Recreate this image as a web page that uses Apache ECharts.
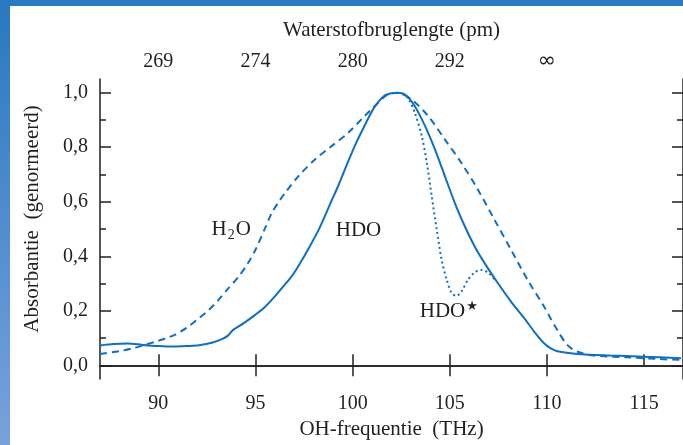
<!DOCTYPE html>
<html>
<head>
<meta charset="utf-8">
<script src="https://cdn.jsdelivr.net/npm/echarts@6/dist/echarts.min.js"></script>
<style>
html,body{margin:0;padding:0;background:#fff;}
#c{width:683px;height:445px;}
</style>
</head>
<body>
<div id="c"></div>
<script>
// ---- data ----
var freqTicks = [90, 95, 100, 105, 110, 115];
var bondTickPos = [90, 95, 100, 105, 110];
var bondTickLabels = ['269', '274', '280', '292', '{inf|\u221E}'];
var yMajor = [0, 0.2, 0.4, 0.6, 0.8, 1.0];
var yMinor = [0.1, 0.3, 0.5, 0.7, 0.9];

var hdo = [[87,0.073],[87.7,0.078],[88.4,0.080],[89.2,0.075],[90,0.071],[90.8,0.069],[91.5,0.071],[92.1,0.074],[92.8,0.084],[93.3,0.097],[93.6,0.110],[93.85,0.130],[94.4,0.155],[95,0.186],[95.5,0.215],[96,0.253],[96.5,0.295],[96.9,0.330],[97.3,0.375],[97.7,0.424],[98.3,0.504],[98.9,0.601],[99.3,0.665],[99.6,0.718],[100.1,0.803],[100.6,0.877],[101.1,0.944],[101.6,0.987],[102.0,0.998],[102.3,1.0],[102.7,0.993],[103.2,0.950],[103.73,0.877],[104.24,0.791],[104.75,0.693],[105.26,0.595],[105.77,0.510],[106.28,0.436],[106.79,0.375],[107.47,0.302],[108.15,0.234],[108.83,0.173],[109.34,0.124],[109.85,0.081],[110.2,0.062],[110.53,0.052],[111.55,0.042],[113.25,0.036],[114.95,0.032],[116.9,0.026]];

var h2o = [[87,0.042],[88,0.052],[88.7,0.063],[89.3,0.075],[89.9,0.088],[90.5,0.102],[90.9,0.114],[91.5,0.140],[92.1,0.173],[92.6,0.203],[93.1,0.240],[93.6,0.282],[94.14,0.326],[94.6,0.373],[95.0,0.424],[95.5,0.504],[95.84,0.559],[96.2,0.600],[96.52,0.632],[97.2,0.693],[98.05,0.754],[98.9,0.803],[99.76,0.852],[100.6,0.913],[101.3,0.962],[101.8,0.993],[102.3,0.999],[103.05,0.974],[103.9,0.913],[104.75,0.828],[105.6,0.742],[106.45,0.644],[107.3,0.534],[108.15,0.424],[109.0,0.314],[109.85,0.216],[110.2,0.170],[110.53,0.130],[111.04,0.075],[111.55,0.051],[112.4,0.036],[114.1,0.030],[115.8,0.023],[116.9,0.020]];

var hdoStar = [[102.3,1.0],[102.7,0.99],[102.9,0.974],[103.2,0.926],[103.56,0.840],[103.82,0.742],[104.07,0.620],[104.33,0.497],[104.58,0.387],[104.84,0.314],[105.1,0.265],[105.35,0.255],[105.6,0.271],[105.94,0.314],[106.28,0.341],[106.62,0.350],[106.96,0.341],[107.3,0.315]];

var labelNames = ['H{sub|2}O', 'HDO', 'HDO{s|\u2605}'];
var labelPos = [[93.75, 0.497], [100.3, 0.495], [104.95, 0.198]];

// ---- chart ----
var FONT = 'Liberation Serif';
var TXT = '#231f20';
var BLUE = '#1170be';
var AX = '#231f20';

function fmtY(v){ return v.toFixed(1).replace('.', ','); }

var chart = echarts.init(document.getElementById('c'), null, {renderer: 'canvas'});

var baseX = {
  type: 'value', min: 87, max: 117,
  splitLine: {show: false},
  axisLine: {show: true, lineStyle: {color: AX, width: 1.5}},
};
var baseY = {
  type: 'value', min: -0.05, max: 1.05,
  splitLine: {show: false},
  axisLine: {show: true, lineStyle: {color: AX, width: 1.5}},
};

var option = {
  animation: false,
  backgroundColor: '#ffffff',
  grid: {left: 100, top: 79, right: -5, bottom: 66, containLabel: false},
  xAxis: [
    Object.assign({}, baseX, {
      position: 'bottom',
      name: 'OH-frequentie  (THz)', nameLocation: 'middle', nameGap: 36,
      nameTextStyle: {fontFamily: FONT, fontSize: 21, color: TXT},
      axisTick: {show: true, inside: true, length: 11, customValues: freqTicks, lineStyle: {color: AX, width: 1.5}},
      axisLabel: {show: true, customValues: freqTicks, margin: 15, fontFamily: FONT, fontSize: 20, color: TXT}
    }),
    Object.assign({}, baseX, {
      position: 'top',
      name: 'Waterstofbruglengte (pm)', nameLocation: 'middle', nameGap: 38,
      nameTextStyle: {fontFamily: FONT, fontSize: 21, color: TXT},
      axisTick: {show: true, inside: true, length: 11, customValues: bondTickPos, lineStyle: {color: AX, width: 1.5}},
      axisLabel: {show: true, customValues: bondTickPos, margin: 7, fontFamily: FONT, fontSize: 20, color: TXT,
        rich: {inf: {fontFamily: 'DejaVu Sans', fontSize: 22, color: TXT}},
        formatter: function(v){ var i = bondTickPos.indexOf(v); return i >= 0 ? bondTickLabels[i] : ''; }}
    })
  ],
  yAxis: [
    Object.assign({}, baseY, {
      position: 'left',
      name: 'Absorbantie  (genormeerd)', nameLocation: 'middle', nameGap: 57, nameRotate: 90,
      nameTextStyle: {fontFamily: FONT, fontSize: 21, color: TXT, padding: [0, 0, 0, 20]},
      axisTick: {show: true, inside: true, length: 11, customValues: yMajor, lineStyle: {color: AX, width: 1.5}},
      axisLabel: {show: true, customValues: yMajor, margin: 12, fontFamily: FONT, fontSize: 20, color: TXT, formatter: fmtY}
    }),
    Object.assign({}, baseY, {
      position: 'left',
      axisLine: {show: false},
      axisTick: {show: true, inside: true, length: 6, customValues: yMinor, lineStyle: {color: AX, width: 1.5}},
      axisLabel: {show: false}
    }),
    Object.assign({}, baseY, {
      position: 'right',
      axisTick: {show: true, inside: true, length: 11, customValues: yMajor, lineStyle: {color: AX, width: 1.5}},
      axisLabel: {show: false}
    }),
    Object.assign({}, baseY, {
      position: 'right',
      axisLine: {show: false},
      axisTick: {show: true, inside: true, length: 6, customValues: yMinor, lineStyle: {color: AX, width: 1.5}},
      axisLabel: {show: false}
    })
  ],
  series: [
    {
      name: 'H2O', type: 'line', data: h2o, xAxisIndex: 0, yAxisIndex: 0,
      showSymbol: false, smooth: 0.3,
      lineStyle: {color: BLUE, width: 2, type: [7, 5]}
    },
    {
      name: 'HDO*', type: 'line', data: hdoStar, xAxisIndex: 0, yAxisIndex: 0,
      showSymbol: false, smooth: 0.3,
      lineStyle: {color: BLUE, width: 2, type: [2, 3]}
    },
    {
      name: 'HDO', type: 'line', data: hdo, xAxisIndex: 0, yAxisIndex: 0,
      showSymbol: false, smooth: 0.3,
      lineStyle: {color: BLUE, width: 2}
    },
    {
      name: 'labels', type: 'scatter', xAxisIndex: 0, yAxisIndex: 0,
      symbolSize: 0, silent: true,
      itemStyle: {opacity: 1},
      data: labelPos.map(function(p, i){ return {value: p, name: labelNames[i]}; }),
      label: {
        show: true, position: 'inside', opacity: 1,
        formatter: function(p){ return p.name; },
        fontFamily: FONT, fontSize: 21, color: TXT,
        textBorderWidth: 0, textBorderColor: 'transparent',
        rich: {
          s: {fontFamily: 'DejaVu Sans', fontSize: 13, color: TXT, verticalAlign: 'top', padding: [0, 0, 9, 1], textBorderWidth: 0},
          sub: {fontFamily: FONT, fontSize: 14, color: TXT, padding: [11, 1, 0, 1], textBorderWidth: 0}
        }
      }
    }
  ],
  graphic: [
    {type: 'rect', left: 0, top: 0, shape: {width: 683, height: 6}, z: 100,
     style: {fill: '#2a7bc2'}},
    {type: 'rect', left: 0, top: 0, shape: {width: 10, height: 445}, z: 100,
     style: {fill: new echarts.graphic.LinearGradient(0, 0, 0, 1, [{offset: 0, color: '#2878c0'}, {offset: 1, color: '#78a2dc'}])}}
  ]
};
chart.setOption(option);
</script>
</body>
</html>
